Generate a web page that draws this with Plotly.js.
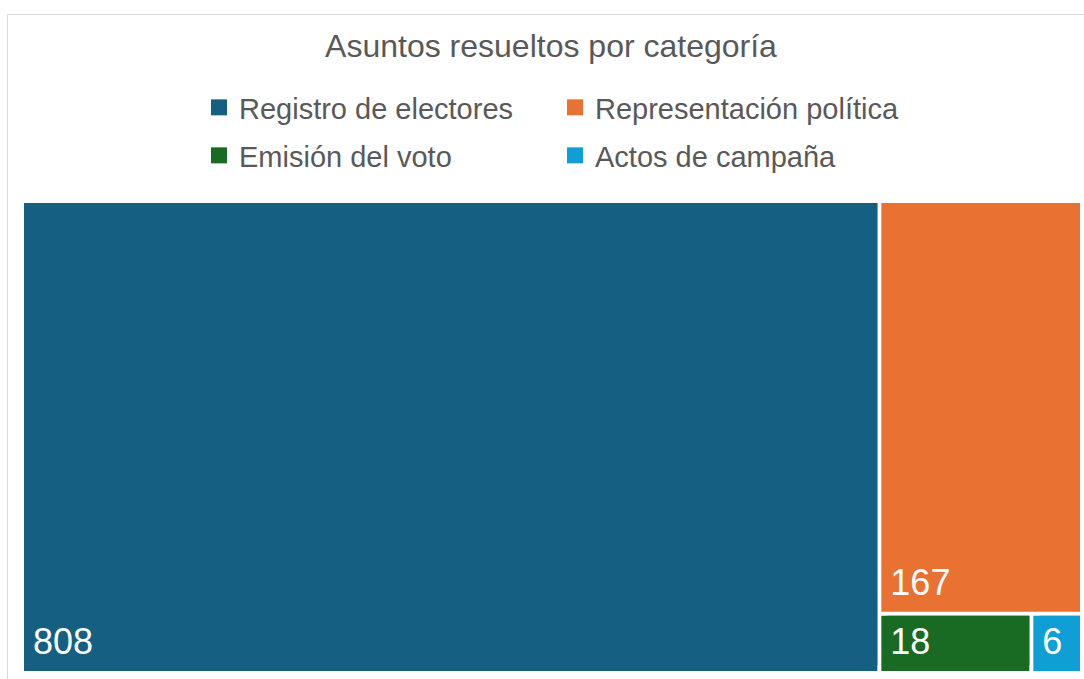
<!DOCTYPE html>
<html>
<head>
<meta charset="utf-8">
<script src="https://cdn.plot.ly/plotly-3.0.1.min.js"></script>
<style>
  html, body { margin: 0; padding: 0; background: #ffffff; }
  #chart { width: 1084px; height: 679px; }
</style>
</head>
<body>
<div id="chart"></div>
<script>
const categories = ["Registro de electores", "Representación política", "Emisión del voto", "Actos de campaña"];
const values = [808, 167, 18, 6];
const colors = ["#156082", "#E97132", "#196B24", "#0F9ED5"];
const chartTitle = "Asuntos resueltos por categoría";

const FONT = "Liberation Sans, Arial, sans-serif";
const W = 1084, H = 679;
const INSET = 6;
const mL = 24 - INSET, mR = 4, mT = 203, mB = 8 - INSET;
const plotW = W - mL - mR, plotH = H - mT - mB;

// each category is a tile; an inner tile of the same colour carries the value label
const ids = categories.concat(categories.map(c => c + " · valor"));
const labels = categories.map(() => " ").concat(categories);
const parents = categories.map(() => "").concat(categories);
const tileValues = values.concat(values);
const tileColors = colors.concat(colors);
const tileText = categories.map(() => " ").concat(values.map(v => String(v)));
const tileTextColors = categories.map(() => "rgba(0,0,0,0)").concat(categories.map(() => "#ffffff"));

const treemap = {
  type: "treemap",
  ids: ids,
  labels: labels,
  parents: parents,
  values: tileValues,
  text: tileText,
  branchvalues: "total",
  sort: true,
  textinfo: "text",
  textposition: "bottom left",
  textfont: { family: FONT, size: 36, color: tileTextColors },
  marker: { colors: tileColors, line: { width: 0 }, pad: { t: 0, l: INSET, r: 0, b: INSET }, depthfade: false },
  leaf: { opacity: 1 },
  tiling: { packing: "squarify", pad: 4 },
  pathbar: { visible: false },
  root: { color: "rgba(0,0,0,0)" },
  hoverinfo: "none",
  showlegend: false,
  domain: { x: [0, 1], y: [0, 1] }
};

const legendTraces = categories.map((c, i) => ({
  type: "scatter",
  mode: "markers",
  x: [null], y: [null],
  name: c,
  legend: i < 2 ? "legend" : "legend2",
  marker: { symbol: "square", size: 16, color: colors[i] },
  hoverinfo: "none",
  showlegend: true
}));

const px2x = p => (p - mL) / plotW;
const px2y = p => (H - mB - p) / plotH;

const legendBase = {
  orientation: "h",
  entrywidth: 311,
  entrywidthmode: "pixels",
  x: px2x(199), xanchor: "left",
  yanchor: "top", yref: "container",
  font: { family: FONT, size: 29, color: "#595959" },
  bgcolor: "rgba(0,0,0,0)",
  traceorder: "normal",
  itemclick: false, itemdoubleclick: false
};

const layout = {
  width: W, height: H,
  margin: { l: mL, r: mR, t: mT, b: mB, pad: 0 },
  paper_bgcolor: "#ffffff",
  plot_bgcolor: "#ffffff",
  font: { family: FONT, color: "#595959" },
  title: {
    text: chartTitle,
    font: { family: FONT, size: 32, color: "#595959" },
    x: 551 / W, xanchor: "center", xref: "container",
    y: 1 - 46 / H, yanchor: "middle", yref: "container"
  },
  showlegend: true,
  legend: Object.assign({}, legendBase, { y: 1 - 82 / H }),
  legend2: Object.assign({}, legendBase, { y: 1 - 130 / H }),
  xaxis: { visible: false, range: [0, 1], fixedrange: true },
  yaxis: { visible: false, range: [0, 1], fixedrange: true },
  shapes: [
    { type: "line", xref: "paper", yref: "paper", x0: px2x(7.5), x1: px2x(7.5), y0: px2y(14.5), y1: px2y(700), line: { color: "#D9D9D9", width: 1 } },
    { type: "line", xref: "paper", yref: "paper", x0: px2x(7.5), x1: px2x(1100), y0: px2y(14.5), y1: px2y(14.5), line: { color: "#D9D9D9", width: 1 } }
  ],
  hovermode: false
};

Plotly.newPlot("chart", [treemap].concat(legendTraces), layout, { displayModeBar: false, staticPlot: true });
</script>
</body>
</html>
